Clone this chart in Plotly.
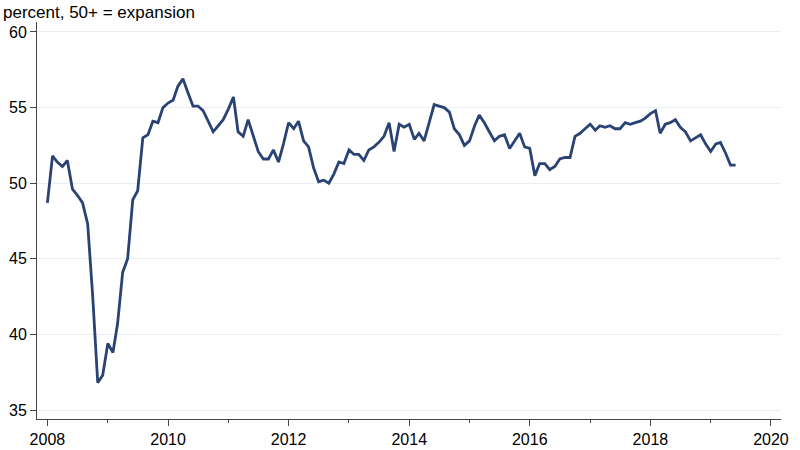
import pandas as pd
import plotly.graph_objects as go

start_month = "2008-01-01"
values = [
    48.7, 51.8, 51.4, 51.1, 51.5, 49.6, 49.2, 48.7, 47.3, 42.6,
    36.8, 37.3, 39.4, 38.8, 40.7, 44.1, 45.0, 48.9, 49.5, 53.0,
    53.2, 54.1, 54.0, 55.0, 55.3, 55.5, 56.4, 56.9, 56.0, 55.1,
    55.1, 54.8, 54.1, 53.4, 53.8, 54.2, 54.9, 55.7, 53.4, 53.1,
    54.2, 53.2, 52.1, 51.6, 51.6, 52.2, 51.4, 52.6, 54.0, 53.6,
    54.1, 52.8, 52.4, 51.0, 50.1, 50.2, 50.0, 50.6, 51.4, 51.3,
    52.2, 51.9, 51.9, 51.5, 52.2, 52.4, 52.7, 53.1, 54.0, 52.1,
    53.9, 53.7, 53.9, 52.9, 53.3, 52.8, 54.0, 55.2, 55.1, 55.0,
    54.7, 53.6, 53.2, 52.5, 52.8, 53.8, 54.5, 54.0, 53.4, 52.8,
    53.1, 53.2, 52.3, 52.8, 53.3, 52.4, 52.3, 50.5, 51.3, 51.3,
    50.9, 51.1, 51.6, 51.7, 51.7, 53.1, 53.3, 53.6, 53.9, 53.5,
    53.8, 53.7, 53.8, 53.6, 53.6, 54.0, 53.9, 54.0, 54.1, 54.3,
    54.6, 54.8, 53.3, 53.9, 54.0, 54.2, 53.7, 53.4, 52.8, 53.0,
    53.2, 52.6, 52.1, 52.6, 52.7, 52.0, 51.2, 51.2,
]
dates = pd.date_range(start_month, periods=len(values), freq="MS")

y_ticks = [35, 40, 45, 50, 55, 60]
title_text = "percent, 50+ = expansion"

fig = go.Figure()
fig.add_trace(go.Scatter(
    x=dates, y=values, mode="lines",
    line=dict(color="#2a4374", width=2.8),
    hoverinfo="skip", showlegend=False,
))

font_family = "Liberation Sans, Arial, sans-serif"
fig.update_layout(
    width=800, height=450,
    margin=dict(l=37, r=19, t=22, b=31, autoexpand=False),
    paper_bgcolor="white", plot_bgcolor="white",
    font=dict(family=font_family, size=16, color="#000000"),
    title=dict(text=title_text, x=0.0, xanchor="left", xref="container",
               y=0.987, yanchor="top", yref="container",
               font=dict(size=17, family=font_family, color="#000000"),
               pad=dict(t=0, l=3, b=0, r=0)),
)
fig.update_xaxes(
    type="date", automargin=False,
    range=["2007-10-30", "2020-03-02"],
    tick0="2008-01-01", dtick="M24", tickformat="%Y",
    ticks="outside", ticklen=6, tickwidth=1, tickcolor="#444444",
    minor=dict(ticks="outside", ticklen=3, dtick="M12", tick0="2008-01-01",
               tickcolor="#444444", showgrid=False),
    showline=True, linecolor="#444444", linewidth=1,
    showgrid=False, zeroline=False,
    tickfont=dict(size=16, color="#000000"),
)
fig.update_yaxes(
    automargin=False,
    range=[34.405, 60.66],
    tickvals=y_ticks,
    ticks="outside", ticklen=6, tickwidth=1, tickcolor="#444444",
    showline=True, linecolor="#444444", linewidth=1,
    showgrid=True, gridcolor="#e9eef2", gridwidth=1,
    zeroline=False,
    tickfont=dict(size=16, color="#000000"),
)

fig.write_html(
    "out.html",
    config={"displayModeBar": False, "staticPlot": True},
    post_script="document.body.style.margin='0';document.body.style.padding='0';",
)
